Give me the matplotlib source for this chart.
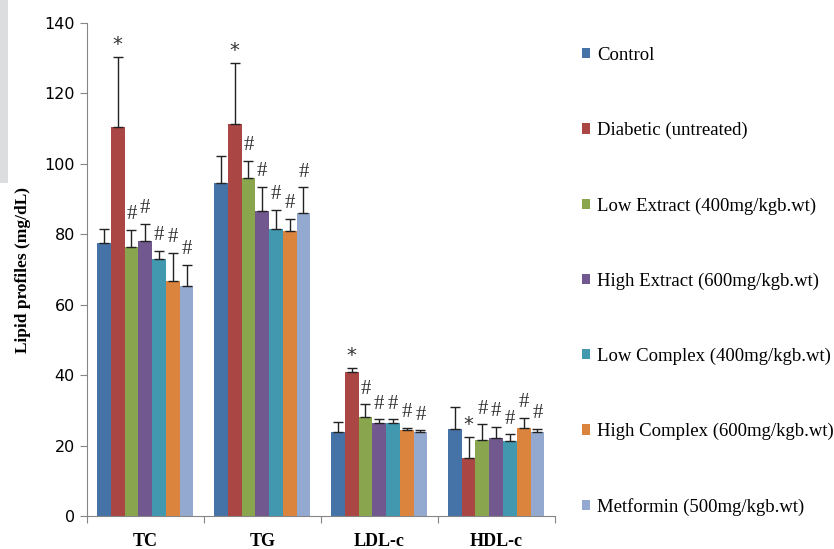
import numpy as np
import matplotlib.pyplot as plt
from matplotlib.patches import Rectangle

categories = ['TC', 'TG', 'LDL-c', 'HDL-c']
groups = ['Control', 'Diabetic (untreated)', 'Low Extract (400mg/kgb.wt)',
          'High Extract (600mg/kgb.wt)', 'Low Complex (400mg/kgb.wt)',
          'High Complex (600mg/kgb.wt)', 'Metformin (500mg/kgb.wt)']
colors = ['#4572A7', '#AA4643', '#89A54E', '#71588F', '#4198AF', '#DB843D', '#93A9CF']

# values per group, order TC, TG, LDL-c, HDL-c
control = [77.5, 94.7, 23.8, 24.7]
diabetic = [110.6, 111.4, 40.8, 16.5]
low_extract = [76.5, 96.1, 28.0, 21.6]
high_extract = [78.0, 86.7, 26.3, 22.2]
low_complex = [72.9, 81.6, 26.3, 21.3]
high_complex = [66.7, 80.9, 24.4, 25.0]
metformin = [65.3, 86.0, 23.8, 23.9]

control_err = [4.0, 7.6, 2.8, 6.2]
diabetic_err = [19.7, 17.2, 1.3, 6.0]
low_extract_err = [4.7, 4.8, 3.7, 4.5]
high_extract_err = [5.0, 6.8, 1.2, 3.2]
low_complex_err = [2.5, 5.3, 1.2, 1.9]
high_complex_err = [8.1, 3.5, 0.7, 2.9]
metformin_err = [6.0, 7.4, 0.5, 0.9]

# significance marks per group
control_sig = ['', '', '', '']
diabetic_sig = ['*', '*', '*', '*']
low_extract_sig = ['#', '#', '#', '#']
high_extract_sig = ['#', '#', '#', '#']
low_complex_sig = ['#', '#', '#', '#']
high_complex_sig = ['#', '#', '#', '#']
metformin_sig = ['#', '#', '#', '#']

values = [control, diabetic, low_extract, high_extract, low_complex, high_complex, metformin]
errors = [control_err, diabetic_err, low_extract_err, high_extract_err,
          low_complex_err, high_complex_err, metformin_err]
sigs = [control_sig, diabetic_sig, low_extract_sig, high_extract_sig,
        low_complex_sig, high_complex_sig, metformin_sig]

fig = plt.figure(figsize=(8.34, 5.49), dpi=100)
ax = fig.add_axes([0.104, 0.060, 0.561, 0.898])

x = np.arange(len(categories))
w = 1 / 8.5
for j in range(len(groups)):
    pos = x + (j - 3) * w
    ax.bar(pos, values[j], w, color=colors[j], label=groups[j],
           yerr=[np.zeros(4), errors[j]], capsize=3.5,
           error_kw=dict(ecolor='#222222', elinewidth=1, capthick=1))
    for k in range(len(categories)):
        s = sigs[j][k]
        if s:
            top = values[j][k] + errors[j][k]
            if s == '*':
                ax.text(pos[k], top + 0.8, s, ha='center', va='bottom',
                        fontsize=14, family='DejaVu Sans', color='#333333')
            else:
                ax.text(pos[k], top + 1.6, s, ha='center', va='bottom',
                        fontsize=15, family='Liberation Serif', color='#333333')

ax.set_xlim(-0.5, 3.5)
ax.set_ylim(0, 140)
ax.set_yticks(np.arange(0, 141, 20))
ax.set_xticks(np.arange(-0.5, 3.6, 1))
ax.set_xticklabels([])
ax.set_xticks(x, minor=True)
ax.set_xticklabels(categories, minor=True, family='Liberation Serif',
                   fontweight='bold', fontsize=13)
ax.tick_params(axis='x', which='minor', length=0, pad=12)
ax.tick_params(axis='x', which='major', length=5, color='#868686')
ax.tick_params(axis='y', length=5, color='#868686', labelsize=11.5)
for sp in ['top', 'right']:
    ax.spines[sp].set_visible(False)
for sp in ['left', 'bottom']:
    ax.spines[sp].set_color('#868686')

ax.set_ylabel('Lipid profiles (mg/dL)', family='Liberation Serif',
              fontweight='bold', fontsize=12.5, labelpad=10)

ax.legend(loc='upper left', bbox_to_anchor=(1.03, 0.978), frameon=False,
          prop={'family': 'Liberation Serif', 'size': 13.5},
          handlelength=0.45, handleheight=0.45, handletextpad=0.35,
          labelspacing=3.09, borderaxespad=0.3)

fig.add_artist(Rectangle((0, 1 - 183 / 549), 8 / 834, 183 / 549,
                         transform=fig.transFigure, color='#DCDDDF', lw=0))

fig.savefig('out.png', dpi=100)
